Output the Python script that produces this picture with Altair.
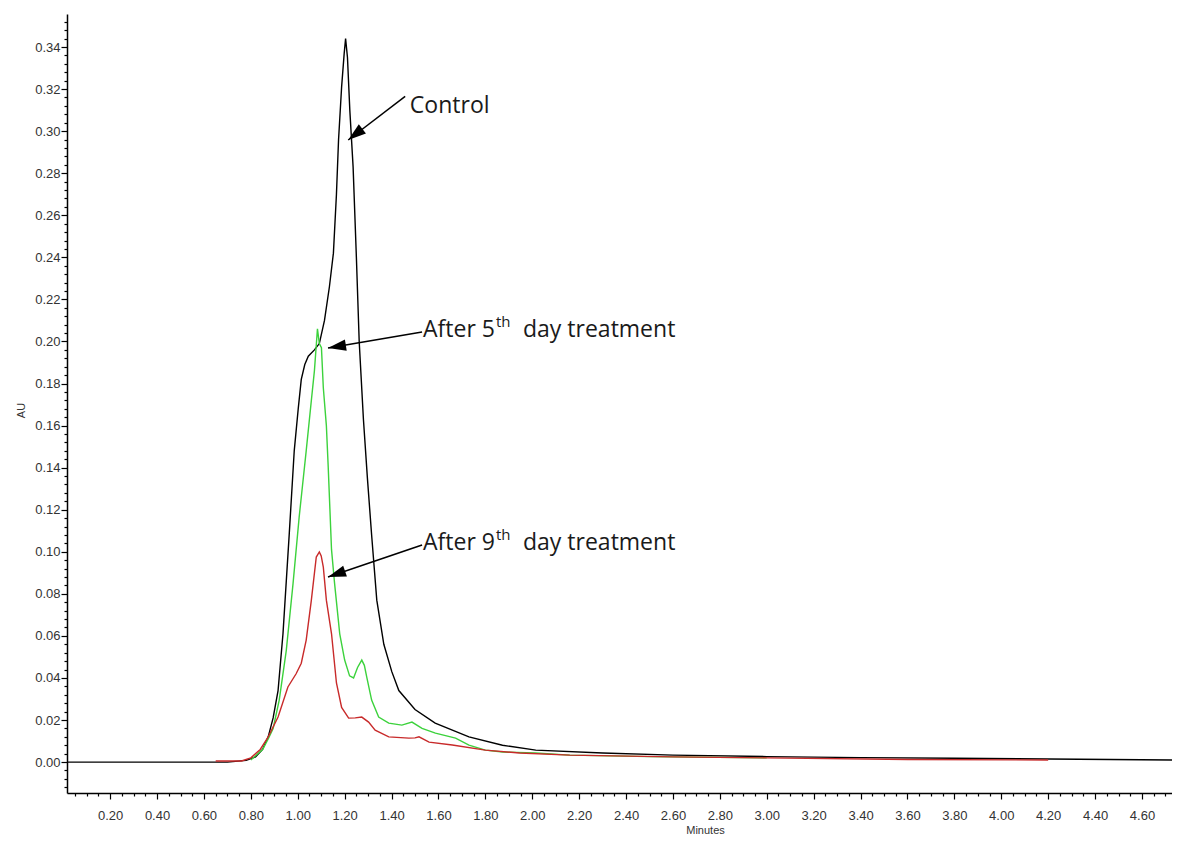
import altair as alt
import pandas as pd

# ---------------- data ----------------
ctrl_t = [0.016, 0.70, 0.78, 0.82, 0.85, 0.874, 0.895, 0.916, 0.937, 0.964, 0.985, 1.002, 1.015,
          1.030, 1.045, 1.071, 1.092, 1.114, 1.135, 1.152, 1.165, 1.174, 1.187, 1.198, 1.204,
          1.212, 1.222, 1.236, 1.250, 1.262, 1.280, 1.297, 1.315, 1.337, 1.367, 1.401, 1.431,
          1.500, 1.586, 1.730, 1.873, 2.015, 2.300, 2.600, 3.000, 3.400, 3.800, 4.200, 4.728]
ctrl_v = [0.0, 0.0, 0.0008, 0.0025, 0.006, 0.012, 0.021, 0.034, 0.061, 0.109, 0.148, 0.168, 0.182,
          0.189, 0.193, 0.196, 0.199, 0.210, 0.226, 0.242, 0.270, 0.296, 0.321, 0.337, 0.344,
          0.335, 0.310, 0.283, 0.240, 0.200, 0.163, 0.135, 0.108, 0.077, 0.056, 0.043, 0.034,
          0.025, 0.0185, 0.012, 0.008, 0.0057, 0.0043, 0.0033, 0.0026, 0.0021, 0.0018, 0.0015, 0.0010]

day5_t = [0.80, 0.85, 0.874, 0.895, 0.921, 0.951, 0.980, 1.006, 1.036, 1.058, 1.071, 1.084,
          1.092, 1.101, 1.109, 1.122, 1.130, 1.144, 1.157, 1.179, 1.200, 1.221, 1.238, 1.255,
          1.273, 1.284, 1.294, 1.315, 1.345, 1.388, 1.444, 1.487, 1.530, 1.587, 1.673, 1.730,
          1.800, 1.873, 2.015, 2.160, 2.500, 3.000]
day5_v = [0.001, 0.006, 0.011, 0.016, 0.0295, 0.053, 0.085, 0.1165, 0.148, 0.172, 0.186, 0.206,
          0.199, 0.197, 0.178, 0.160, 0.140, 0.101, 0.085, 0.061, 0.0485, 0.041, 0.040, 0.045,
          0.0485, 0.046, 0.0405, 0.0295, 0.0214, 0.0185, 0.0176, 0.019, 0.016, 0.0138, 0.0114, 0.0081,
          0.0057, 0.0048, 0.0043, 0.0033, 0.0026, 0.0020]

day9_t = [0.65, 0.76, 0.80, 0.84, 0.874, 0.916, 0.958, 0.993, 1.015, 1.036, 1.058, 1.079, 1.092,
          1.100, 1.109, 1.122, 1.144, 1.165, 1.187, 1.217, 1.245, 1.273, 1.302, 1.330, 1.388,
          1.474, 1.500, 1.517, 1.560, 1.659, 1.800, 1.946, 2.160, 2.600, 3.000, 3.600, 4.200]
day9_v = [0.0005, 0.0005, 0.002, 0.006, 0.012, 0.0214, 0.0357, 0.042, 0.047, 0.058, 0.077, 0.0975, 0.0999,
          0.098, 0.0927, 0.077, 0.061, 0.0376, 0.026, 0.0209, 0.021, 0.0214, 0.019, 0.0152, 0.012,
          0.0114, 0.0115, 0.012, 0.0095, 0.0081, 0.0057, 0.0043, 0.0033, 0.0025, 0.0020, 0.0012, 0.0010]

series_names = ["Control", "After 5th day treatment", "After 9th day treatment"]
series_colors = ["#000000", "#3cd23c", "#c82a2a"]

# annotations: label pieces, text anchor, arrow start, arrow tip, arrow angle
ann_main = ["Control", "After 5", "After 9"]
ann_sup = ["", "th", "th"]
ann_tail = ["", "day treatment", "day treatment"]
ann_tx = [1.478, 1.534, 1.534]
ann_ty = [0.3120, 0.2054, 0.1041]
ann_x0 = [1.458, 1.530, 1.530]
ann_y0 = [0.3165, 0.2045, 0.1032]
ann_x1 = [1.215, 1.129, 1.129]
ann_y1 = [0.2958, 0.1969, 0.0880]
ann_angle = [232, 261, 251]

# axis ticks (major + minor)
x_ticks = [round(0.05 * k, 2) for k in range(1, 95)]
y_ticks = [round(0.004 * k, 3) for k in range(-3, 89)]

X_DOMAIN = [0.016, 4.728]
Y_DOMAIN = [-0.0147, 0.3557]

# ---------------- build tables ----------------
rows = []
for name, ts, vs in zip(series_names, [ctrl_t, day5_t, day9_t], [ctrl_v, day5_v, day9_v]):
    for i, (t, v) in enumerate(zip(ts, vs)):
        rows.append({"series": name, "i": i, "t": t, "v": v})
df = pd.DataFrame(rows)

ann = pd.DataFrame({
    "main": ann_main, "sup": ann_sup, "tail": ann_tail,
    "tx": ann_tx, "ty": ann_ty, "x0": ann_x0, "y0": ann_y0,
    "x1": ann_x1, "y1": ann_y1, "angle": ann_angle,
})

x_major = "abs(datum.value*5 - round(datum.value*5)) < 0.001"
y_major = "abs(datum.value*50 - round(datum.value*50)) < 0.001"

xscale = alt.Scale(domain=X_DOMAIN, nice=False, zero=False)
yscale = alt.Scale(domain=Y_DOMAIN, nice=False, zero=False)

x_axis = alt.Axis(
    values=x_ticks, title="Minutes", grid=False,
    labelExpr=f"({x_major}) ? format(datum.value, '.2f') : ''",
    tickSize={"condition": {"test": x_major, "value": 6}, "value": 3},
    labelOverlap=False, labelFlush=False, labelPadding=10,
    labelFont="Liberation Sans", labelFontSize=13, labelColor="#333333",
    domainColor="#000000", tickColor="#000000", domainWidth=1.5, tickWidth=1.2,
    titleFont="Liberation Sans", titleFontSize=11, titleFontWeight="normal", titleColor="#333333",
    titleX=638, titleY=37, titleAnchor="start", titleAlign="center", titleBaseline="middle",
)
y_axis = alt.Axis(
    values=y_ticks, title="AU", grid=False,
    labelExpr=f"({y_major}) ? format(datum.value, '.2f') : ''",
    tickSize={"condition": {"test": y_major, "value": 6}, "value": 3},
    labelOverlap=False, labelFlush=False, labelPadding=1,
    labelFont="Liberation Sans", labelFontSize=13, labelColor="#333333",
    domainColor="#000000", tickColor="#000000", domainWidth=1.5, tickWidth=1.2,
    titleFont="Liberation Sans", titleFontSize=11, titleFontWeight="normal", titleColor="#333333",
    titleX=-46, titleY=396, titleAngle=270, titleAnchor="start", titleAlign="center",
    titleBaseline="middle",
)


def X(field):
    return alt.X(field, type="quantitative", scale=xscale, axis=x_axis)


def Y(field):
    return alt.Y(field, type="quantitative", scale=yscale, axis=y_axis)


base = alt.Chart(df)
layers = []
for name, col in zip(series_names, series_colors):
    layers.append(
        base.transform_filter(alt.datum.series == name)
        .mark_line(color=col, strokeWidth=1.4, clip=True)
        .encode(x=X("t"), y=Y("v"), order="i:O")
    )

abase = alt.Chart(ann)
arrows = abase.mark_rule(color="#000000", strokeWidth=1.5).encode(
    x=X("x0"), y=Y("y0"), x2="x1:Q", y2="y1:Q")
heads = abase.mark_point(
    shape="M0,0 L-0.32,1 L0.32,1 Z", filled=True, color="#000000", opacity=1, size=1300,
).encode(x=X("x1"), y=Y("y1"), angle=alt.Angle("angle:Q", scale=None))

tfont = "Open Sans"
t_main = abase.mark_text(align="left", baseline="middle", font=tfont, fontSize=23, color="#1a1a1a").encode(
    x=X("tx"), y=Y("ty"), text="main:N")
t_sup = abase.mark_text(align="left", baseline="middle", font=tfont, fontSize=15, color="#1a1a1a",
                        dx=73, dy=-8).encode(
    x=X("tx"), y=Y("ty"), text="sup:N")
t_tail = abase.mark_text(align="left", baseline="middle", font=tfont, fontSize=23, color="#1a1a1a",
                         dx=100).encode(
    x=X("tx"), y=Y("ty"), text="tail:N")

chart = alt.layer(*layers, arrows, heads, t_main, t_sup, t_tail).properties(
    width=1105, height=779,
    autosize=alt.AutoSizeParams(type="none"),
    padding={"left": 59, "top": 6, "right": 0, "bottom": 44},
    background="#ffffff",
).configure_view(stroke=None)

chart.save("out.html", embed_options={"renderer": "svg", "actions": False})
